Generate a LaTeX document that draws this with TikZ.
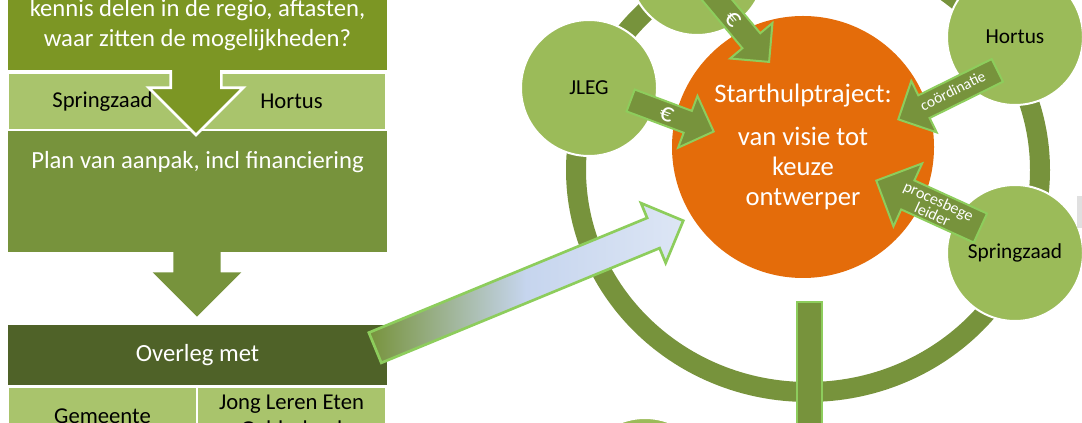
\documentclass[tikz,border=0pt]{standalone}
\usepackage{fontspec}
\setmainfont{Carlito}
\usetikzlibrary{shapes.arrows}

\definecolor{olijf}{RGB}{124,150,36}
\definecolor{lichtgroen}{RGB}{169,196,108}
\definecolor{middengroen}{RGB}{119,147,60}
\definecolor{donkergroen}{RGB}{79,98,40}
\definecolor{bolgroen}{RGB}{155,187,89}
\definecolor{randgroen}{RGB}{141,205,92}
\definecolor{oranje}{RGB}{228,108,10}
\definecolor{lichtblauw}{RGB}{198,213,238}

\begin{document}
\begin{tikzpicture}[x=0.75pt, y=-0.75pt,
    blok/.style={rectangle, inner sep=0pt, minimum width=284.25pt, text=white, align=center, font=\fontsize{18.5}{22.5}\selectfont},
    cel/.style={rectangle, inner sep=0pt, fill=lichtgroen, draw=white, line width=1pt, minimum width=141.75pt, align=center, font=\fontsize{17}{20}\selectfont},
    bol/.style={circle, inner sep=0pt, fill=bolgroen, draw=white, line width=1.5pt, minimum size=102pt, font=\fontsize{16}{19}\selectfont},
    pijl/.style={single arrow, anchor=tip, fill=middengroen, draw=randgroen, line width=1.5pt, text=white, inner xsep=2pt, single arrow head extend=12pt, align=center},
    europijl/.style={pijl, font=\fontsize{20}{20}\selectfont, text height=11pt, text depth=0pt, inner ysep=2.5pt},
    rijpijl/.style={single arrow, anchor=tip, rotate=-90, inner sep=0pt}]
\useasboundingbox (0,0) rectangle (1082,423);
\clip (0,0) rectangle (1082,423);

% linker kolom
\node[blok, fill=middengroen, minimum height=91.5pt] (plan) at (197.5,191) {};
\node[blok] (plantekst) at (197.5,162) {Plan van aanpak, incl financiering};
\node[rijpijl, fill=middengroen, inner ysep=17.6pt, single arrow head extend=15.4pt, minimum height=54pt] (pijlplan) at (197,317) {};
\node[cel, minimum height=42.75pt] (springzaadcel) at (102.5,101.5) {Springzaad};
\node[cel, minimum height=42.75pt] (hortuscel) at (291.5,101.5) {Hortus};
\node[rijpijl, fill=olijf, draw=white, line width=2pt, inner ysep=18pt, single arrow head extend=16.5pt, minimum height=57.75pt] (pijlrij) at (196,137) {};
\node[blok, fill=olijf, minimum height=67.5pt] (kennis) at (197.5,25) {kennis delen in de regio, aftasten,\\waar zitten de mogelijkheden?};
\node[blok, fill=donkergroen, minimum height=45pt] (overleg) at (197.5,355) {Overleg met};
\node[cel, minimum height=43.5pt] (gemeente) at (102.5,416) {Gemeente};
\node[cel, minimum height=43.5pt] (jleg) at (291.5,416) {Jong Leren Eten\\Gelderland};

% ring met partners
\draw[middengroen, line width=15pt] (808,170) ellipse [x radius=232, y radius=222];
\node[bol] (boven) at (697,-33) {};
\node[bol] (jlegbol) at (589,88) {JLEG};
\node[bol] (hortusbol) at (1015,37) {Hortus};
\node[bol] (springzaadbol) at (1015,253) {Springzaad};
\node[bol] (onder) at (645,486) {};
\node[rectangle, fill=middengroen, draw=randgroen, line width=1.5pt, minimum width=18.75pt, minimum height=103.5pt, inner sep=0pt] (staaf) at (809.5,371) {};
\node[circle, fill=oranje, minimum size=196.5pt, inner sep=0pt, text=white, align=center, font=\fontsize{20}{22.5}\selectfont] (start) at (803,147) {Starthulptraject:\\[9.75pt]van visie tot\\keuze\\ontwerper};

% pijlen naar het starthulptraject
\node[europijl, rotate=-50, minimum height=75pt] (eurotop) at (770,63) {€};
\node[europijl, rotate=-20.5, minimum height=66.5pt] (eurojleg) at (715,132) {€};
\node[pijl, rotate=26.3, shape border rotate=180, minimum height=82.9pt, font=\fontsize{11.5}{11.5}\selectfont, text height=8pt, text depth=2.5pt, inner ysep=3.5pt] (coordpijl) at (897,120) {coördinatie};
\node[pijl, rotate=-24.5, shape border rotate=180, minimum height=85.8pt, single arrow head extend=14pt, font=\fontsize{12}{11}\selectfont, inner ysep=1.5pt] (procespijl) at (875,180) {procesbege\\leider};
\node[single arrow, anchor=tip, rotate=22.4, minimum height=250pt, inner sep=0pt, inner ysep=11.25pt, single arrow head extend=12pt, draw=randgroen, line width=2pt, left color=middengroen, right color=lichtblauw!60!white, middle color=lichtblauw] (overlegpijl) at (685,220) {};
\fill[black!12] (1077,196) rectangle (1090,228);
\end{tikzpicture}
\end{document}
